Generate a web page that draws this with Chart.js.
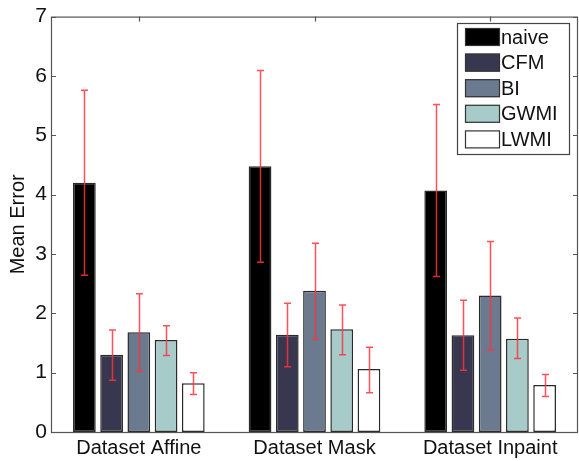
<!DOCTYPE html>
<html lang="en">
<head>
    <meta charset="UTF-8">
    <title>Mean Error</title>
    <style>
        html, body { margin: 0; padding: 0; background: #fff; }
        #wrap { width: 579px; height: 461px; position: relative; }
    </style>
</head>
<body>
    <div id="wrap"><canvas id="errChart"></canvas></div>

    <script src="https://cdn.jsdelivr.net/npm/chart.js"></script>
    <script>
        // data
        const categories = ['Dataset Affine', 'Dataset Mask', 'Dataset Inpaint'];
        const methods = ['naive', 'CFM', 'BI', 'GWMI', 'LWMI'];

        const naive = [4.20, 4.48, 4.07];
        const cfm = [1.30, 1.64, 1.63];
        const bi = [1.68, 2.38, 2.30];
        const gwmi = [1.55, 1.73, 1.57];
        const lwmi = [0.82, 1.06, 0.79];

        // error bar ends
        const naiveLo = [2.64, 2.86, 2.62], naiveHi = [5.76, 6.09, 5.52];
        const cfmLo = [0.87, 1.10, 1.04], cfmHi = [1.72, 2.17, 2.22];
        const biLo = [1.02, 1.56, 1.38], biHi = [2.33, 3.18, 3.21];
        const gwmiLo = [1.29, 1.30, 1.24], gwmiHi = [1.79, 2.14, 1.92];
        const lwmiLo = [0.63, 0.66, 0.60], lwmiHi = [1.00, 1.43, 0.97];

        const yTicks = [0, 1, 2, 3, 4, 5, 6, 7];

        const colors = ['#000000', '#38374f', '#6b7a8e', '#a6cbc8', '#ffffff'];
        const series = [naive, cfm, bi, gwmi, lwmi];
        const lows = [naiveLo, cfmLo, biLo, gwmiLo, lwmiLo];
        const highs = [naiveHi, cfmHi, biHi, gwmiHi, lwmiHi];

        const FONT = 'Liberation Sans, Arial, sans-serif';

        // red error bars on top of the bars
        const errorBars = {
            id: 'errorBars',
            afterDatasetsDraw(chart) {
                const ctx = chart.ctx;
                const y = chart.scales.y;
                ctx.save();
                ctx.strokeStyle = 'rgba(255, 50, 60, 0.85)';
                ctx.lineWidth = 1.5;
                chart.data.datasets.forEach((ds, i) => {
                    const meta = chart.getDatasetMeta(i);
                    meta.data.forEach((bar, j) => {
                        const x = Math.round(bar.x) + 0.5;
                        const y1 = y.getPixelForValue(lows[i][j]);
                        const y2 = y.getPixelForValue(highs[i][j]);
                        ctx.beginPath();
                        ctx.moveTo(x, y1); ctx.lineTo(x, y2);
                        ctx.moveTo(x - 3.5, y1); ctx.lineTo(x + 3.5, y1);
                        ctx.moveTo(x - 3.5, y2); ctx.lineTo(x + 3.5, y2);
                        ctx.stroke();
                    });
                });
                ctx.restore();
            }
        };

        // matlab style box with inward ticks, and legend inside the box
        const frame = {
            id: 'frame',
            afterDraw(chart) {
                const ctx = chart.ctx;
                const a = chart.chartArea;
                const x = chart.scales.x, y = chart.scales.y;
                ctx.save();
                ctx.strokeStyle = '#555';
                ctx.lineWidth = 1.2;
                ctx.strokeRect(a.left + 0.5, a.top + 0.5, a.right - a.left - 1, a.bottom - a.top);
                ctx.beginPath();
                yTicks.forEach(v => {
                    const py = Math.round(y.getPixelForValue(v)) + 0.5;
                    ctx.moveTo(a.left, py); ctx.lineTo(a.left + 5, py);
                    ctx.moveTo(a.right, py); ctx.lineTo(a.right - 5, py);
                });
                categories.forEach((c, i) => {
                    const px = Math.round(x.getPixelForValue(i)) + 0.5;
                    ctx.moveTo(px, a.top); ctx.lineTo(px, a.top + 5);
                });
                ctx.stroke();

                // legend
                const lx = 457, ly = 23, lw = 112, lh = 131;
                ctx.fillStyle = '#fff';
                ctx.fillRect(lx, ly, lw, lh);
                ctx.strokeStyle = '#444';
                ctx.lineWidth = 1.2;
                ctx.strokeRect(lx + 0.5, ly + 0.5, lw, lh);
                ctx.font = '20px ' + FONT;
                ctx.textBaseline = 'middle';
                ctx.textAlign = 'left';
                methods.forEach((m, i) => {
                    const sy = ly + 5 + i * 25.6;
                    ctx.fillStyle = colors[i];
                    ctx.fillRect(lx + 8, sy, 35, 18);
                    ctx.strokeStyle = '#333';
                    ctx.strokeRect(lx + 8.5, sy + 0.5, 34, 17);
                    ctx.fillStyle = '#111';
                    ctx.fillText(m, lx + 44, sy + 10);
                });
                ctx.restore();
            }
        };

        const datasets = methods.map((m, i) => ({
            label: m,
            data: series[i],
            backgroundColor: colors[i],
            borderColor: '#2a2a2a',
            borderWidth: 1.5,
            borderSkipped: false,
            categoryPercentage: 0.775,
            barPercentage: 0.835
        }));

        new Chart(document.getElementById('errChart'), {
            type: 'bar',
            data: { labels: categories, datasets: datasets },
            options: {
                responsive: true,
                maintainAspectRatio: false,
                animation: false,
                layout: { padding: { top: 15, right: 1, left: 0, bottom: 0 } },
                plugins: {
                    legend: { display: false },
                    tooltip: { enabled: false }
                },
                scales: {
                    x: {
                        grid: { display: false, drawTicks: false },
                        border: { display: false },
                        ticks: { color: '#111', font: { size: 20, family: FONT }, padding: 4 },
                        afterFit: s => { s.height = 29; }
                    },
                    y: {
                        min: 0,
                        max: 7,
                        grid: { display: false, drawTicks: false },
                        border: { display: false },
                        afterBuildTicks: s => { s.ticks = yTicks.map(v => ({ value: v })); },
                        ticks: { color: '#111', font: { size: 21, family: FONT }, padding: 4 },
                        title: {
                            display: true,
                            text: 'Mean Error',
                            color: '#111',
                            font: { size: 20, family: FONT },
                            padding: { top: 6, bottom: 0 }
                        },
                        afterFit: s => { s.width = 51; }
                    }
                }
            },
            plugins: [errorBars, frame]
        });
    </script>
</body>
</html>
